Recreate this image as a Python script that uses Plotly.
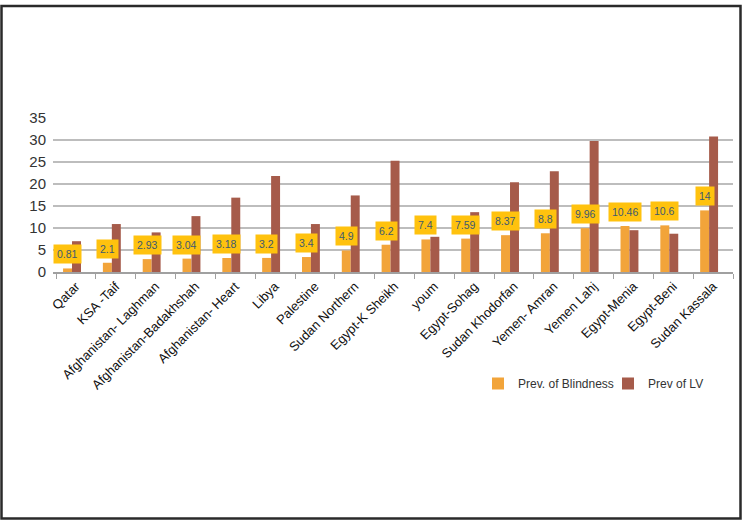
import plotly.graph_objects as go

# data
regions = ["Qatar", "KSA -Taif", "Afghanistan- Laghman", "Afghanistan-Badakhshah",
           "Afghanistan- Heart", "Libya", "Palestine", "Sudan Northern", "Egypt-K Sheikh",
           "youm", "Egypt-Sohag", "Sudan Khodorfan", "Yemen- Amran", "Yemen Lahj",
           "Egypt-Menia", "Egypt-Beni", "Sudan Kassala"]
blindness = [0.81, 2.1, 2.93, 3.04, 3.18, 3.2, 3.4, 4.9, 6.2, 7.4, 7.59, 8.37, 8.8,
             9.96, 10.46, 10.6, 14]
low_vision = [7.0, 10.9, 9.0, 12.7, 16.9, 21.8, 10.9, 17.4, 25.3, 8.0, 13.6, 20.4,
              22.9, 29.8, 9.5, 8.7, 30.8]
y_ticks = [0, 5, 10, 15, 20, 25, 30, 35]

W, H = 742, 520
ml, mr, mt, mb = 53, 9, 118, 248
pw, ph = W - ml - mr, H - mt - mb
cat_px = pw / len(regions)

# bars sit a little left of the category centre, as in the original
bw = 0.225
fig = go.Figure()
fig.add_trace(go.Bar(x=regions, y=blindness, name="Prev. of Blindness",
                     width=bw, offset=-0.325,
                     marker=dict(color="#F2A43A", line_width=0)))
fig.add_trace(go.Bar(x=regions, y=low_vision, name="Prev of LV",
                     width=bw, offset=-0.1,
                     marker=dict(color="#A65B4A", line_width=0)))

# yellow value labels above the blindness bars
for r, v in zip(regions, blindness):
    fig.add_annotation(x=r, y=v, text=f"{v:g}", showarrow=False,
                       xshift=(-0.325 + bw / 2) * cat_px,
                       yanchor="bottom", yshift=4, bgcolor="#FFC20E",
                       borderpad=3, font=dict(size=10.5, color="#3E5A70"))

# thin dark frame round the whole picture
fig.add_shape(type="rect", xref="paper", yref="paper",
              x0=-(ml - 1.5) / pw, x1=(W - ml - 1.5) / pw,
              y0=-(mb - 1.5) / ph, y1=(ph + mt - 6) / ph,
              line=dict(color="#2A2A2A", width=2.5), layer="above")

fig.update_layout(
    width=W, height=H,
    margin=dict(l=ml, r=mr, t=mt, b=mb, autoexpand=False),
    paper_bgcolor="white", plot_bgcolor="white",
    barmode="overlay",
    font=dict(family="Liberation Sans, Arial, sans-serif", color="#222222"),
    showlegend=True,
    legend=dict(orientation="h", x=0.625, y=-0.724, xanchor="left", yanchor="middle",
                font=dict(size=12, color="#333333"), itemwidth=30,
                bgcolor="rgba(0,0,0,0)",
                entrywidth=85, entrywidthmode="pixels", traceorder="normal"),
)
fig.update_xaxes(tickangle=-45, tickfont=dict(size=13, color="#111111"),
                 showline=True, linecolor="#A0A0A0", linewidth=1.5,
                 ticks="outside", tickson="boundaries", ticklen=5, tickcolor="#A0A0A0",
                 showgrid=False)
fig.update_yaxes(range=[0, 35], tickvals=y_ticks, showgrid=True, gridcolor="#BDBDBD",
                 gridwidth=1.5, zeroline=False, showline=False,
                 tickfont=dict(size=15, color="#333333"), ticks="", ticklabelstandoff=6)

fig.write_html("out.html", config={"displayModeBar": False},
               post_script="document.body.style.margin='0';")
